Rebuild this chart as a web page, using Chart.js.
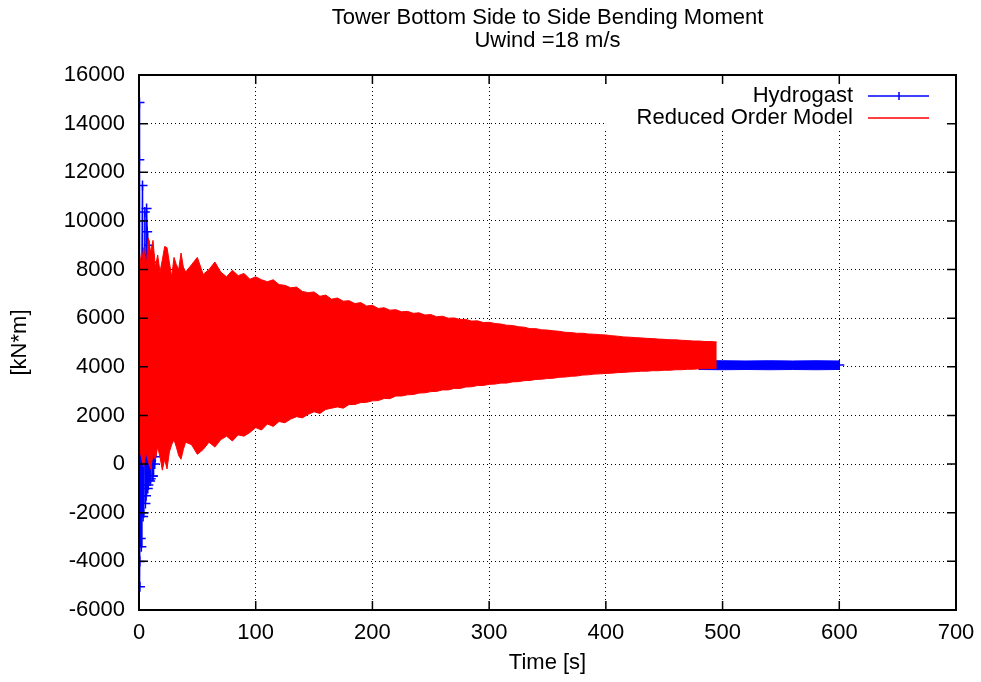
<!DOCTYPE html>
<html>
<head>
<meta charset="utf-8">
<title>Tower Bottom Side to Side Bending Moment</title>
<script src="https://cdn.jsdelivr.net/npm/chart.js@4.4.1/dist/chart.umd.min.js"></script>
<style>
  html, body { margin: 0; padding: 0; background: #fff; }
  #wrap { width: 981px; height: 682px; }
</style>
</head>
<body>
<div id="wrap"><canvas id="momentChart" width="981" height="682"></canvas></div>
<script>
// Chart text
const titleLines = ['Tower Bottom Side to Side Bending Moment', 'Uwind =18 m/s'];
const seriesNames = ['Hydrogast', 'Reduced Order Model'];
const xTitle = 'Time [s]';
const yTitle = '[kN*m]';

// Axis ranges / tick steps
const xRange = [0, 700, 100];
const yRange = [-6000, 16000, 2000];

// Reduced order model: envelope of the fast oscillation
const romTime = [0, 2, 4, 6, 8, 10, 12, 14, 16, 18, 20, 22, 24, 26, 28, 30, 32, 34, 36, 38, 40,
  45, 50, 55, 60, 65, 70, 75, 80, 85, 90, 95, 100, 105, 110, 115, 120, 125, 130, 135, 140,
  145, 150, 155, 160, 165, 170, 175, 180, 185, 190, 195, 200, 205, 210, 215, 220, 225, 230,
  235, 240, 245, 250, 255, 260, 265, 270, 275, 280, 285, 290, 295, 300, 305, 310, 315, 320,
  325, 330, 335, 340, 345, 350, 355, 360, 365, 370, 375, 380, 385, 390, 395, 400, 405, 410,
  415, 420, 425, 430, 435, 440, 445, 450, 455, 460, 465, 470, 475, 480, 485, 490, 495];
const romUpper = [8800, 8200, 8900, 8000, 9300, 8700, 9200, 8100, 8600, 7900, 8400, 8950, 8900, 8300, 7700, 8500, 8200, 8000, 8680, 8100, 7900,
  8200, 8500, 7800, 8000, 8310, 7900, 7700, 7970, 7750, 7840, 7600, 7700, 7580, 7500, 7580, 7380, 7350, 7250, 7280, 7100,
  7050, 7080, 6900, 6950, 6780, 6830, 6700, 6720, 6600, 6640, 6500, 6530, 6400, 6430, 6330, 6350, 6260, 6280,
  6200, 6220, 6130, 6150, 6060, 6080, 6000, 6010, 5950, 5950, 5880, 5890, 5820, 5830, 5780, 5760, 5710, 5700,
  5650, 5630, 5570, 5570, 5520, 5510, 5480, 5460, 5420, 5410, 5380, 5380, 5350, 5340, 5320, 5310, 5280, 5260,
  5230, 5220, 5200, 5190, 5170, 5160, 5140, 5130, 5110, 5110, 5090, 5080, 5060, 5060, 5040, 5040, 5020];
const romLower = [700, 300, -100, 500, 100, -200, 400, 200, 700, 300, -250, 200, -200, 500, 800, 1000, 700, 350, 200, 600, 900,
  800, 400, 600, 900, 700, 1000, 1150, 950, 1200, 1150, 1300, 1500, 1400, 1650, 1550, 1750, 1700, 1850, 1950, 1900,
  2050, 2150, 2080, 2250, 2300, 2350, 2300, 2450, 2450, 2530, 2540, 2600, 2610, 2700, 2690, 2800, 2800, 2850,
  2860, 2920, 2930, 2980, 2990, 3050, 3050, 3110, 3110, 3170, 3180, 3230, 3230, 3280, 3290, 3330, 3330, 3380,
  3390, 3430, 3440, 3480, 3490, 3520, 3530, 3570, 3580, 3610, 3620, 3660, 3670, 3700, 3710, 3730, 3740, 3760,
  3770, 3790, 3800, 3820, 3820, 3840, 3840, 3860, 3860, 3880, 3880, 3900, 3900, 3920, 3920, 3930, 3940];

// Hydrogast: start-up transient and the settled signal
const hydroTime = [0, 0.1, 0.2, 0.3, 0.4, 0.5, 0.6, 0.7, 0.8, 0.9, 1.0, 1.5, 2, 2.5, 3, 3.5, 4, 4.5, 5, 5.5,
  6, 6.5, 7, 7.5, 8, 8.5, 9, 9.5, 10, 10.5, 11, 11.5, 12, 12.5, 13, 13.5, 14, 14.5, 15,
  20, 40, 80, 120, 160, 200, 240, 280, 320, 360, 400, 440, 480, 600];
const hydroValue = [4100, 6740, 8250, 12520, 14870, 7150, 1810, -4010, -5040, -1310, 3310, -3060, -3400, 8250, 11460, -2160, -2000, 7720, 10370, -1620,
  -1300, 10510, 9550, -1000, -860, 9000, 8600, -700, -600, 8300, 7800, -500, -490, 7400, 7000, 0, 300, 6800, 6400,
  4200, 4100, 4150, 4100, 4120, 4100, 4110, 4100, 4100, 4090, 4100, 4080, 4070, 4070];
const hydroTailTime = [480, 500, 520, 540, 560, 580, 600];
const hydroTailHigh = [4250, 4250, 4240, 4250, 4240, 4250, 4240];
const hydroTailLow = [3890, 3880, 3890, 3880, 3890, 3880, 3890];

const FONT = "'Liberation Sans', Arial, Helvetica, sans-serif";
Chart.defaults.font.family = FONT;
Chart.defaults.font.size = 22;
Chart.defaults.color = '#000';

const toPts = (xs, ys) => xs.map((x, i) => ({ x: x, y: ys[i] }));

// gnuplot-like frame, inward tick marks, title and key
const gnuplotDecor = {
  id: 'gnuplotDecor',
  afterDraw(chart) {
    const { ctx, chartArea: a, scales } = chart;
    ctx.save();

    // key box is opaque in the original
    const kx = a.right - 103, ky = a.top + 21;
    ctx.fillStyle = '#fff';
    ctx.fillRect(a.right - 352, a.top + 9, 340, 44);

    ctx.strokeStyle = '#000';
    ctx.lineWidth = 1.5;
    ctx.beginPath();
    scales.x.ticks.forEach(t => {
      const px = scales.x.getPixelForValue(t.value);
      ctx.moveTo(px, a.bottom); ctx.lineTo(px, a.bottom - 9);
      ctx.moveTo(px, a.top); ctx.lineTo(px, a.top + 9);
    });
    scales.y.ticks.forEach(t => {
      const py = scales.y.getPixelForValue(t.value);
      ctx.moveTo(a.left, py); ctx.lineTo(a.left + 9, py);
      ctx.moveTo(a.right, py); ctx.lineTo(a.right - 9, py);
    });
    ctx.stroke();
    ctx.lineWidth = 2;
    ctx.strokeRect(a.left, a.top, a.right - a.left, a.bottom - a.top);

    // title
    const cx = (a.left + a.right) / 2;
    ctx.fillStyle = '#000';
    ctx.font = '22px ' + FONT;
    ctx.textAlign = 'center';
    ctx.textBaseline = 'middle';
    ctx.fillText(titleLines[0], cx, 18);
    ctx.fillText(titleLines[1], cx, 41);

    // key
    ctx.textAlign = 'right';
    ctx.fillText(seriesNames[0], kx, ky);
    ctx.fillText(seriesNames[1], kx, ky + 22);
    ctx.lineWidth = 1.5;
    ctx.strokeStyle = '#0000ff';
    ctx.beginPath();
    ctx.moveTo(kx + 15, ky); ctx.lineTo(kx + 76, ky);
    ctx.moveTo(kx + 46, ky - 4); ctx.lineTo(kx + 46, ky + 4);
    ctx.stroke();
    ctx.strokeStyle = '#ff0000';
    ctx.beginPath();
    ctx.moveTo(kx + 15, ky + 22); ctx.lineTo(kx + 76, ky + 22);
    ctx.stroke();
    ctx.restore();
  }
};

const ctx = document.getElementById('momentChart').getContext('2d');
new Chart(ctx, {
  type: 'line',
  data: {
    datasets: [
      {
        label: seriesNames[1],
        data: toPts(romTime, romUpper),
        borderColor: '#ff0000',
        borderWidth: 1,
        pointRadius: 0,
        fill: false,
        order: 1
      },
      {
        label: seriesNames[1] + ' (lower)',
        data: toPts(romTime, romLower),
        borderColor: '#ff0000',
        backgroundColor: '#ff0000',
        borderWidth: 1,
        pointRadius: 0,
        fill: '-1',
        order: 1
      },
      {
        label: seriesNames[0],
        data: toPts(hydroTime, hydroValue),
        borderColor: '#0000ff',
        borderWidth: 1.5,
        pointStyle: 'cross',
        pointRadius: 5,
        pointBorderColor: '#0000ff',
        pointBorderWidth: 1.5,
        fill: false,
        order: 2
      },
      {
        label: seriesNames[0] + ' (tail high)',
        data: toPts(hydroTailTime, hydroTailHigh),
        borderColor: '#0000ff',
        borderWidth: 1,
        pointRadius: 0,
        fill: false,
        order: 2
      },
      {
        label: seriesNames[0] + ' (tail low)',
        data: toPts(hydroTailTime, hydroTailLow),
        borderColor: '#0000ff',
        backgroundColor: '#0000ff',
        borderWidth: 1,
        pointRadius: 0,
        fill: '-1',
        order: 2
      }
    ]
  },
  options: {
    responsive: false,
    animation: false,
    layout: { padding: { top: 75, right: 25, left: 0, bottom: 0 } },
    plugins: {
      legend: { display: false },
      title: { display: false },
      tooltip: { enabled: false }
    },
    scales: {
      x: {
        type: 'linear',
        min: xRange[0],
        max: xRange[1],
        ticks: { stepSize: xRange[2], padding: 10, maxRotation: 0, callback: v => String(v) },
        grid: { color: '#000', lineWidth: 1, drawTicks: false },
        border: { display: false, dash: [1, 3] },
        title: { display: true, text: xTitle, padding: { top: 0, bottom: 6 } },
        afterFit: s => { s.height = 72; s.paddingLeft = 0; s.paddingRight = 0; }
      },
      y: {
        min: yRange[0],
        max: yRange[1],
        ticks: { stepSize: yRange[2], padding: 14, callback: v => String(v) },
        grid: { color: '#000', lineWidth: 1, drawTicks: false },
        border: { display: false, dash: [1, 3] },
        title: { display: true, text: yTitle, padding: { top: 7, bottom: 0 } },
        afterFit: s => { s.width = 139; s.paddingTop = 0; s.paddingBottom = 0; }
      }
    }
  },
  plugins: [gnuplotDecor]
});
</script>
</body>
</html>
